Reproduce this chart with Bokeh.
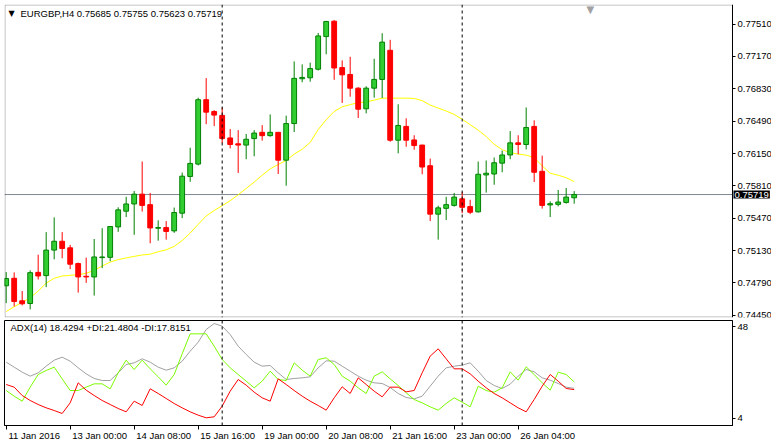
from bokeh.plotting import figure
from bokeh.models import (Range1d, FixedTicker, PrintfTickFormatter, Span, Label,
                          LinearAxis, BoxAnnotation)
from bokeh.layouts import column
from bokeh.embed import file_html
from bokeh.resources import INLINE

symbol = "EURGBP,H4"

opens = [0.74760, 0.74839, 0.74602, 0.74574, 0.74901, 0.74867, 0.75135, 0.75228, 0.75159, 0.74994,
         0.74860, 0.74853, 0.75056, 0.75059, 0.75379, 0.75544, 0.75620, 0.75723, 0.75613, 0.75365,
         0.75372, 0.75337, 0.75523, 0.75909, 0.76039, 0.76716, 0.76592, 0.76551, 0.76314, 0.76252,
         0.76239, 0.76307, 0.76373, 0.76338, 0.76373, 0.76080, 0.76465, 0.76936, 0.76946, 0.77036,
         0.77379, 0.77541, 0.77053, 0.76981, 0.76837, 0.76620, 0.76837, 0.76929, 0.77235, 0.76290,
         0.76435, 0.76293, 0.76239, 0.76022, 0.75513, 0.75574, 0.75605, 0.75674, 0.75592, 0.75537,
         0.75925, 0.75935, 0.76049, 0.76135, 0.76262, 0.76245, 0.76435, 0.75963, 0.75610, 0.75616,
         0.75636, 0.75685]
highs = [0.74904, 0.74901, 0.74705, 0.74922, 0.75087, 0.75324, 0.75479, 0.75324, 0.75190, 0.75004,
         0.75056, 0.75252, 0.75365, 0.75386, 0.75585, 0.75695, 0.75757, 0.76066, 0.75736, 0.75448,
         0.75440, 0.75582, 0.75950, 0.76211, 0.76737, 0.76943, 0.76606, 0.76634, 0.76407, 0.76396,
         0.76355, 0.76396, 0.76448, 0.76561, 0.76376, 0.76548, 0.77118, 0.77087, 0.77105, 0.77417,
         0.77544, 0.77551, 0.77129, 0.77167, 0.76847, 0.76857, 0.77146, 0.77414, 0.77345, 0.76668,
         0.76520, 0.76342, 0.76242, 0.76097, 0.75602, 0.75695, 0.75736, 0.75747, 0.75664, 0.76066,
         0.76077, 0.76108, 0.76180, 0.76386, 0.76342, 0.76634, 0.76499, 0.76128, 0.75647, 0.75767,
         0.75788, 0.75755]
lows = [0.74578, 0.74543, 0.74554, 0.74512, 0.74826, 0.74746, 0.75038, 0.75049, 0.74935, 0.74688,
        0.74791, 0.74657, 0.74945, 0.75018, 0.75327, 0.75482, 0.75296, 0.75540, 0.75207, 0.75234,
        0.75245, 0.75317, 0.75471, 0.75853, 0.76025, 0.76458, 0.76438, 0.76259, 0.76204, 0.75946,
        0.76090, 0.76121, 0.76286, 0.76327, 0.75935, 0.75812, 0.76376, 0.76899, 0.76905, 0.77022,
        0.77193, 0.76925, 0.76682, 0.76747, 0.76523, 0.76572, 0.76737, 0.76734, 0.76273, 0.76152,
        0.76221, 0.76190, 0.75932, 0.75440, 0.75245, 0.75451, 0.75592, 0.75523, 0.75513, 0.75530,
        0.75739, 0.75822, 0.75953, 0.76090, 0.76142, 0.76193, 0.75850, 0.75571, 0.75482, 0.75595,
        0.75623, 0.75623]
closes = [0.74836, 0.74595, 0.74571, 0.74898, 0.74863, 0.75135, 0.75228, 0.75152, 0.74987, 0.74853,
          0.74853, 0.75063, 0.75063, 0.75383, 0.75558, 0.75620, 0.75723, 0.75605, 0.75368, 0.75372,
          0.75331, 0.75530, 0.75912, 0.76046, 0.76716, 0.76585, 0.76554, 0.76307, 0.76245, 0.76239,
          0.76300, 0.76365, 0.76338, 0.76373, 0.76080, 0.76465, 0.76940, 0.76950, 0.77043, 0.77386,
          0.77538, 0.77049, 0.76977, 0.76837, 0.76616, 0.76837, 0.76929, 0.77321, 0.76290, 0.76445,
          0.76290, 0.76234, 0.76008, 0.75513, 0.75579, 0.75613, 0.75692, 0.75585, 0.75533, 0.75932,
          0.75943, 0.76053, 0.76135, 0.76262, 0.76245, 0.76424, 0.75953, 0.75605, 0.75623, 0.75640,
          0.75692, 0.75719]
ma_values = [0.74489, 0.74540, 0.74587, 0.74633, 0.74705, 0.74788, 0.74839, 0.74863, 0.74870, 0.74877,
             0.74891, 0.74922, 0.74968, 0.75009, 0.75035, 0.75053, 0.75069, 0.75084, 0.75092, 0.75118,
             0.75138, 0.75174, 0.75236, 0.75314, 0.75406, 0.75494, 0.75551, 0.75602, 0.75654, 0.75716,
             0.75783, 0.75850, 0.75922, 0.75989, 0.76035, 0.76077, 0.76144, 0.76195, 0.76267, 0.76402,
             0.76505, 0.76592, 0.76641, 0.76664, 0.76685, 0.76692, 0.76711, 0.76732, 0.76732, 0.76732,
             0.76732, 0.76729, 0.76706, 0.76659, 0.76628, 0.76597, 0.76561, 0.76510, 0.76453, 0.76396,
             0.76329, 0.76247, 0.76190, 0.76159, 0.76144, 0.76133, 0.76108, 0.76020, 0.75943, 0.75922,
             0.75896, 0.75855]

adx = [30.94, 28.55, 26.16, 24.25, 25.84, 29.03, 31.90, 33.33, 31.42, 28.23,
       25.36, 23.13, 22.17, 22.17, 25.84, 29.83, 30.62, 32.54, 30.94, 28.55,
       27.12, 28.23, 31.42, 36.20, 40.51, 46.57, 49.43, 48.16, 44.17, 38.59,
       34.61, 30.94, 29.03, 29.35, 25.84, 22.65, 23.13, 23.45, 23.93, 28.23,
       31.58, 31.42, 29.03, 26.64, 24.25, 22.33, 21.06, 20.74, 18.83, 15.96,
       14.04, 13.41, 14.68, 19.46, 24.25, 28.23, 29.03, 29.51, 30.62, 26.64,
       22.17, 19.78, 18.35, 20.42, 24.25, 27.43, 26.32, 23.45, 22.33, 20.74,
       18.99, 18.43]
plus_di = [17.39, 14.68, 12.29, 18.99, 25.04, 26.96, 28.55, 22.97, 17.39, 17.39,
           18.99, 20.58, 20.58, 18.19, 25.84, 31.90, 27.43, 31.90, 27.75, 23.93,
           19.94, 25.04, 34.93, 44.49, 44.49, 44.49, 38.59, 32.22, 28.23, 25.04,
           21.86, 18.67, 21.86, 26.64, 22.65, 22.17, 30.62, 27.12, 24.25, 32.22,
           33.01, 29.83, 24.25, 21.86, 18.67, 15.96, 24.25, 26.32, 22.97, 19.78,
           16.28, 13.09, 11.49, 9.58, 7.99, 11.17, 13.88, 11.81, 9.58, 19.46,
           17.39, 16.59, 18.67, 26.32, 22.33, 28.71, 25.04, 21.06, 17.55, 26.16,
           25.04, 21.48]
minus_di = [20.26, 18.99, 15.00, 12.61, 10.70, 9.10, 7.83, 6.39, 11.49, 21.06,
            17.55, 15.00, 12.61, 10.70, 8.78, 7.19, 12.29, 10.22, 18.19, 15.96,
            13.57, 11.17, 9.10, 7.19, 5.59, 4.32, 4.80, 9.90, 17.07, 22.65,
            19.94, 16.59, 13.88, 12.29, 22.97, 20.26, 17.39, 14.68, 12.29, 10.22,
            7.99, 13.88, 19.15, 15.96, 23.45, 20.26, 17.07, 14.36, 18.99, 18.99,
            16.75, 17.39, 25.84, 33.81, 37.32, 32.54, 27.75, 27.75, 25.36, 21.86,
            18.67, 15.96, 13.88, 11.49, 9.10, 7.19, 13.09, 19.46, 25.04, 21.86,
            18.35, 17.82]
adx_header = "ADX(14) 18.4294 +DI:21.4804 -DI:17.8151"

date_ticks = [0, 8, 16, 24, 32, 40, 48, 56, 64]
date_labels = ["11 Jan 2016", "13 Jan 00:00", "14 Jan 08:00", "15 Jan 16:00", "19 Jan 00:00",
               "20 Jan 08:00", "21 Jan 16:00", "23 Jan 00:00", "26 Jan 04:00"]
price_ticks = [0.74450, 0.74790, 0.75130, 0.75470, 0.75810, 0.76150, 0.76490, 0.76830, 0.77170, 0.77510]
adx_ticks = [4, 48]
separators = [27, 57]

# ---------------- styling / layout constants ----------------
FONT = "Liberation Sans"
FS_PX = 9.5
FS = f"{FS_PX}px"
BAR_PX = 8          # pixels per bar
CHART_W = 728       # chart area width (px)
LABEL_W = 39        # price scale strip width (px)
MAIN_H = 313
SUB_H = 105
X0 = -0.21
Y_MAIN = (0.744267, 0.777163)
Y_SUB = (0.65, 50.87)

chart_right = X0 + CHART_W / BAR_PX

n = len(opens)
xs = list(range(n))
bull = [c >= o for o, c in zip(opens, closes)]
src = dict(
    x=xs, high=highs, low=lows,
    top=[max(o, c) for o, c in zip(opens, closes)],
    bottom=[min(o, c) for o, c in zip(opens, closes)],
    fill=["#32CD32" if b else "#FF0000" for b in bull],
    line=["#008000" if b else "#FF0000" for b in bull],
)

# ---------------- main price panel ----------------
p1 = figure(frame_width=CHART_W + LABEL_W, frame_height=MAIN_H,
            x_range=Range1d(X0, X0 + (CHART_W + LABEL_W) / BAR_PX),
            y_range=Range1d(*Y_MAIN),
            output_backend="svg", toolbar_location=None,
            x_axis_location=None, y_axis_location=None,
            min_border_left=4, min_border_top=4, min_border_right=0, min_border_bottom=3)
p1.background_fill_color = "white"
p1.border_fill_color = "white"
p1.outline_line_color = None
p1.xgrid.visible = False
p1.ygrid.visible = False

ya = LinearAxis(fixed_location=chart_right,
                ticker=FixedTicker(ticks=price_ticks),
                formatter=PrintfTickFormatter(format="%.5f"),
                major_label_text_font=FONT, major_label_text_font_size=FS,
                major_label_text_color="black",
                major_tick_out=3, major_tick_in=0, minor_tick_out=0, minor_tick_in=0,
                major_label_standoff=2, axis_line_color="black",
                major_tick_line_color="black")
p1.add_layout(ya, "right")

dy1 = (Y_MAIN[1] - Y_MAIN[0]) / MAIN_H
p1.add_layout(BoxAnnotation(left=X0 + 0.5 / BAR_PX, right=chart_right,
                            bottom=Y_MAIN[0] + 0.5 * dy1, top=Y_MAIN[1] - 0.5 * dy1,
                            fill_color=None, line_color="black", line_width=1))

p1.segment(x0=[X0], y0=[closes[-1]], x1=[chart_right], y1=[closes[-1]],
           line_color="#7f8894", line_width=1)
for s in separators:
    p1.add_layout(Span(location=s, dimension="height", line_color="black",
                       line_dash="3 3", line_width=1))

p1.line(xs, ma_values, line_color="#FFFF00", line_width=1)
p1.segment(x0="x", y0="low", x1="x", y1="high", source=src, line_color="line", line_width=1)
p1.vbar(x="x", width=0.6, top="top", bottom="bottom", source=src,
        fill_color="fill", line_color="line", line_width=1)

p1.add_layout(Label(x=4, y=MAIN_H - 9, x_units="screen", y_units="screen", text="\u25bc",
                    text_font="DejaVu Sans", text_font_size="8px", text_color="black",
                    text_baseline="middle"))
header = f"{symbol}  {opens[-1]:.5f} {highs[-1]:.5f} {lows[-1]:.5f} {closes[-1]:.5f}"
p1.add_layout(Label(x=16, y=MAIN_H - 9, x_units="screen", y_units="screen", text=header,
                    text_font=FONT, text_font_size=FS, text_color="black",
                    text_baseline="middle"))
p1.add_layout(Label(x=582, y=MAIN_H + 1, x_units="screen", y_units="screen", text="\u25bc",
                    text_font="DejaVu Sans", text_font_size="10px", text_color="#a0a0a0",
                    text_baseline="top"))
p1.add_layout(Label(x=chart_right + 1 / BAR_PX, y=closes[-1], x_units="data", y_units="data",
                    text=f"{closes[-1]:.5f}", text_font=FONT, text_font_size=FS,
                    text_color="white", background_fill_color="black",
                    text_baseline="middle", padding=1))

# ---------------- ADX panel ----------------
p2 = figure(frame_width=CHART_W, frame_height=SUB_H,
            x_range=Range1d(X0, chart_right),
            y_range=Range1d(*Y_SUB),
            output_backend="svg", toolbar_location=None,
            x_axis_location="below", y_axis_location="right",
            min_border_left=4, min_border_top=0, min_border_right=0, min_border_bottom=15)
p2.background_fill_color = "white"
p2.border_fill_color = "white"
p2.outline_line_color = "black"
p2.outline_line_width = 1
p2.xgrid.visible = False
p2.ygrid.visible = False

ya2 = p2.yaxis[0]
ya2.ticker = FixedTicker(ticks=adx_ticks)
ya2.major_label_text_font = FONT
ya2.major_label_text_font_size = FS
ya2.major_label_text_color = "black"
ya2.major_tick_out = 3
ya2.major_tick_in = 0
ya2.minor_tick_out = 0
ya2.minor_tick_in = 0
ya2.major_label_standoff = 2
ya2.axis_line_color = "black"

# tick marks at the bar times (no text)
xa2 = p2.xaxis[0]
xa2.ticker = FixedTicker(ticks=date_ticks)
xa2.major_label_overrides = {t: "" for t in date_ticks}
xa2.major_label_text_font_size = "0px"
xa2.major_label_standoff = 0
xa2.major_tick_out = 4
xa2.major_tick_in = 0
xa2.minor_tick_out = 0
xa2.minor_tick_in = 0
xa2.axis_line_color = "black"

# date texts, left-aligned just right of each tick (MetaTrader style)
CHAR_EM = {" ": 0.278, ":": 0.278, "J": 0.5}
def text_px(s):
    return sum(CHAR_EM.get(ch, 0.556) for ch in s) * FS_PX

label_pos = [t + (2 + text_px(s) / 2) / BAR_PX for t, s in zip(date_ticks, date_labels)]
xa_lab = LinearAxis(ticker=FixedTicker(ticks=label_pos),
                    major_label_overrides={p: s for p, s in zip(label_pos, date_labels)},
                    major_label_text_font=FONT, major_label_text_font_size=FS,
                    major_label_text_color="black", major_label_standoff=0,
                    major_tick_out=0, major_tick_in=0, minor_tick_out=0, minor_tick_in=0,
                    axis_line_color=None, major_tick_line_color=None, minor_tick_line_color=None)
p2.add_layout(xa_lab, "below")

for s in separators:
    p2.add_layout(Span(location=s, dimension="height", line_color="black",
                       line_dash="3 3", line_width=1))

p2.line(xs, adx, line_color="#A0A0A0", line_width=1)
p2.line(xs, plus_di, line_color="#7CFC00", line_width=1)
p2.line(xs, minus_di, line_color="#FF0000", line_width=1)

p2.add_layout(Label(x=6, y=SUB_H - 7, x_units="screen", y_units="screen", text=adx_header,
                    text_font=FONT, text_font_size=FS, text_color="black",
                    text_baseline="middle"))

layout = column(p1, p2, spacing=0)
open("out.html", "w").write(file_html(layout, INLINE))
